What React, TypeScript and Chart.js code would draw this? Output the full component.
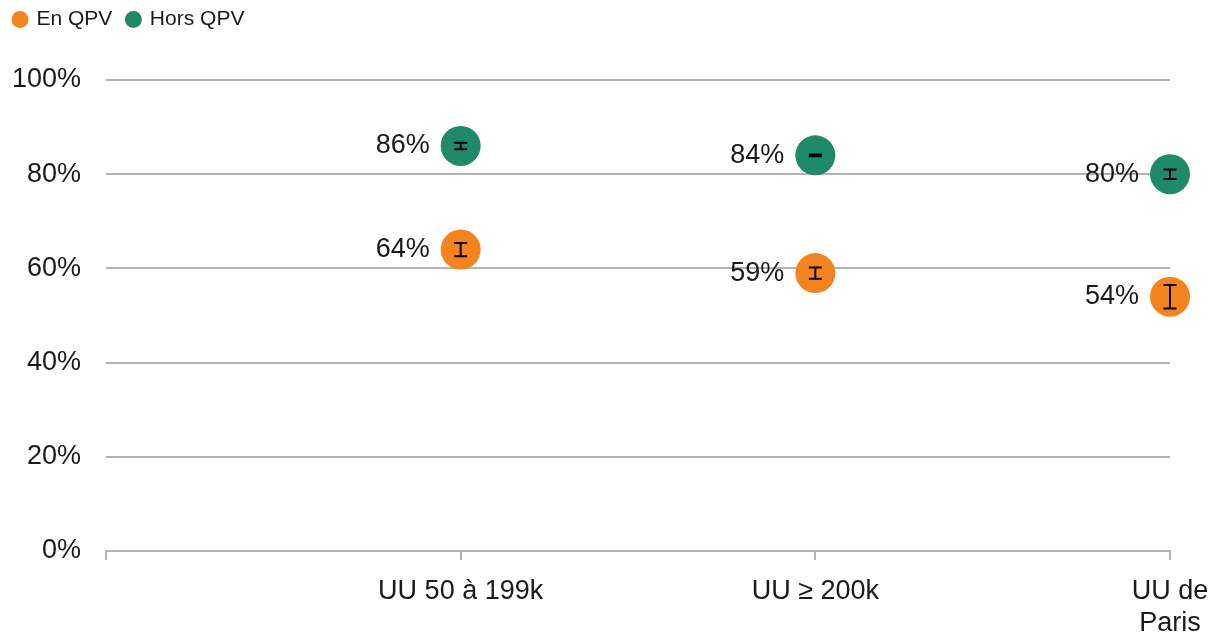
import React, { useEffect, useRef } from "react";
import { Chart, registerables } from "chart.js";

Chart.register(...registerables);

const categories: (string | string[])[] = ["", "UU 50 à 199k", "UU ≥ 200k", ["UU de", "Paris"]];
const enQPV: (number | null)[] = [null, 64, 59, 54];
const horsQPV: (number | null)[] = [null, 86, 84, 80];
const enQPVErr: (number | null)[] = [null, 1.4, 1.2, 2.5];
const horsQPVErr: (number | null)[] = [null, 0.7, 0.2, 1.0];
const yTicks = [0, 20, 40, 60, 80, 100];

const ORANGE = "#f5841f";
const GREEN = "#1f8a67";
const FONT = "'Liberation Sans', Arial, sans-serif";

export default function App() {
  const ref = useRef<HTMLCanvasElement | null>(null);

  useEffect(() => {
    document.body.style.margin = "0";
    const canvas = ref.current;
    if (!canvas) return;
    const errs = [enQPVErr, horsQPVErr];

    const legendFix = {
      id: "legendFix",
      afterInit(chart: any) {
        const lg = chart.legend;
        if (lg) {
          const origFit = lg.fit;
          lg.fit = function () {
            origFit.call(this);
            this.height = 80;
          };
          const origDraw = lg.draw;
          lg.draw = function () {
            const c = this.ctx;
            c.save();
            c.translate(-1, -6);
            origDraw.call(this);
            c.restore();
          };
        }
      },
    };

    const overlay = {
      id: "overlay",
      afterDatasetsDraw(chart: any) {
        const ctx = chart.ctx;
        const y = chart.scales.y;
        chart.data.datasets.forEach((ds: any, di: number) => {
          const meta = chart.getDatasetMeta(di);
          meta.data.forEach((pt: any, i: number) => {
            const v = ds.data[i];
            if (v == null) return;
            const e = errs[di][i] || 0;
            const yt = y.getPixelForValue(v + e);
            const yb = y.getPixelForValue(v - e);
            const cw = 6.5;
            ctx.save();
            ctx.strokeStyle = "#000";
            ctx.lineWidth = 2;
            ctx.beginPath();
            ctx.moveTo(pt.x, yt);
            ctx.lineTo(pt.x, yb);
            ctx.moveTo(pt.x - cw, yt);
            ctx.lineTo(pt.x + cw, yt);
            ctx.moveTo(pt.x - cw, yb);
            ctx.lineTo(pt.x + cw, yb);
            ctx.stroke();
            ctx.fillStyle = "#1a1a1a";
            ctx.font = `27px ${FONT}`;
            ctx.textAlign = "right";
            ctx.textBaseline = "middle";
            ctx.fillText(Math.round(v) + "%", pt.x - 31, pt.y);
            ctx.restore();
          });
        });
      },
    };

    const chart = new Chart(canvas, {
      type: "line",
      data: {
        labels: categories as any,
        datasets: [
          {
            label: "En QPV",
            data: enQPV,
            showLine: false,
            backgroundColor: ORANGE,
            borderColor: ORANGE,
            pointRadius: 20,
            pointHoverRadius: 20,
            pointBorderWidth: 0,
            pointStyle: "circle",
          },
          {
            label: "Hors QPV",
            data: horsQPV,
            showLine: false,
            backgroundColor: GREEN,
            borderColor: GREEN,
            pointRadius: 20,
            pointHoverRadius: 20,
            pointBorderWidth: 0,
            pointStyle: "circle",
          },
        ],
      },
      options: {
        responsive: false,
        animation: false,
        devicePixelRatio: 1,
        layout: { autoPadding: false, padding: { left: 0, right: 47, top: 0, bottom: 0 } },
        plugins: {
          tooltip: { enabled: false },
          legend: {
            display: true,
            position: "top",
            align: "start",
            labels: {
              usePointStyle: true,
              pointStyle: "circle",
              boxWidth: 12,
              boxHeight: 12,
              padding: 15,
              color: "#1a1a1a",
              font: { family: FONT, size: 21 },
            },
          },
        },
        scales: {
          x: {
            type: "category",
            offset: false,
            grid: {
              display: true,
              drawOnChartArea: false,
              drawTicks: true,
              tickLength: 9,
              color: "#b3b3b3",
              lineWidth: 2,
            },
            border: { display: true, color: "#b3b3b3", width: 2 },
            ticks: {
              color: "#1a1a1a",
              font: { family: FONT, size: 27 },
              padding: 15,
              maxRotation: 0,
              autoSkip: false,
            },
            afterFit(scale: any) {
              scale.height = 84;
              scale.paddingRight = 0;
              scale.paddingLeft = 0;
            },
          },
          y: {
            min: 0,
            max: 100,
            afterBuildTicks(scale: any) {
              scale.ticks = yTicks.map((v) => ({ value: v }));
            },
            grid: {
              color: (c: any) => (c.tick && c.tick.value === 0 ? "rgba(0,0,0,0)" : "#b3b3b3"),
              lineWidth: 2,
              drawTicks: false,
            },
            border: { display: false },
            ticks: {
              color: "#1a1a1a",
              font: { family: FONT, size: 27 },
              padding: 25,
              callback: (v: any) => v + "%",
            },
            afterFit(scale: any) {
              scale.width = 106;
            },
          },
        },
      },
      plugins: [legendFix, overlay],
    } as any);

    return () => chart.destroy();
  }, []);

  return (
    <div style={{ width: 1217, height: 635 }}>
      <canvas ref={ref} width={1217} height={635} />
    </div>
  );
}
